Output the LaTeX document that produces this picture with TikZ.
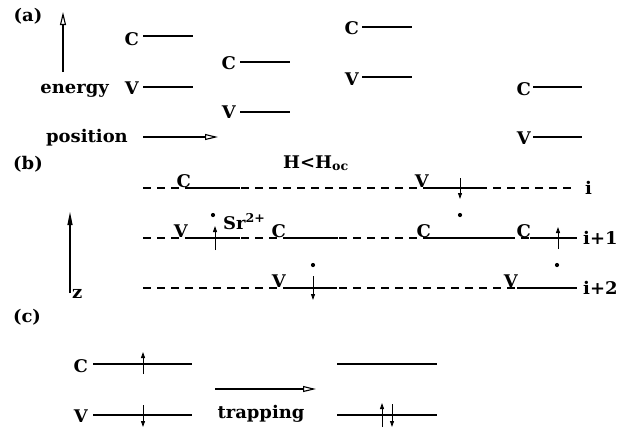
\documentclass[tikz,border=0pt]{standalone}
\usepackage{fontspec}
\setmainfont{DejaVu Serif}[FakeStretch=1.03]
\usetikzlibrary{arrows.meta}
\tikzset{
  lbl/.style={inner sep=0, anchor=base east},
  txt/.style={inner sep=0},
  level/.style={line width=1.1bp},
  rowline/.style={line width=1.1bp, dash pattern=on 8bp off 6bp},
  spin/.style={line width=0.9bp, -{Triangle[length=6bp,width=4bp]}},
  openarr/.style={line width=1.1bp, -{Triangle[open,length=13bp,width=6bp]}},
  fillarr/.style={line width=1.1bp, -{Triangle[length=13bp,width=5bp]}},
  ion/.style={circle, fill, inner sep=0, minimum size=4.2bp},
}
\begin{document}
\begin{tikzpicture}[x=1bp,y=-1bp,font=\fontsize{17.5}{20}\selectfont\bfseries]
\useasboundingbox (0,0) rectangle (632,429);

% ---------------- (a)
\node[txt] (pa) at (28,16) {(a)};
\coordinate (eb) at (63,72); \coordinate (et) at (63,12);
\draw[openarr] (eb) -- (et);
\node[lbl] (energy) at (109,93) {energy};
\node[lbl] (position) at (128,142) {position};
\coordinate (ps) at (143,137); \coordinate (pe) at (218,137);
\draw[openarr] (ps) -- (pe);

\node[lbl] (ca1) at (139,45) {C};  \coordinate (ca1s) at (143,36);  \coordinate (ca1e) at (193,36);
\node[lbl] (va1) at (139,94) {V};  \coordinate (va1s) at (143,87);  \coordinate (va1e) at (193,87);
\node[lbl] (ca2) at (236,69) {C};  \coordinate (ca2s) at (240,62);  \coordinate (ca2e) at (290,62);
\node[lbl] (va2) at (236,118) {V}; \coordinate (va2s) at (240,112); \coordinate (va2e) at (290,112);
\node[lbl] (ca3) at (359,34) {C};  \coordinate (ca3s) at (362,27);  \coordinate (ca3e) at (412,27);
\node[lbl] (va3) at (359,85) {V};  \coordinate (va3s) at (362,77);  \coordinate (va3e) at (412,77);
\node[lbl] (ca4) at (531,95) {C};  \coordinate (ca4s) at (533,87);  \coordinate (ca4e) at (582,87);
\node[lbl] (va4) at (531,144) {V}; \coordinate (va4s) at (533,137); \coordinate (va4e) at (582,137);
\foreach \n in {ca1,va1,ca2,va2,ca3,va3,ca4,va4} \draw[level] (\n s) -- (\n e);

% ---------------- (b)
\node[txt] (pb) at (28,164) {(b)};
\node[txt, anchor=base west] (hoc) at (283,168) {H<H\textsubscript{oc}};
\coordinate (zb) at (70,293); \coordinate (zt) at (70,212);
\draw[fillarr] (zb) -- (zt);
\node[txt, anchor=base west] (zl) at (72,298) {z};

% rows
\coordinate (r1s) at (143,188); \coordinate (r1e) at (577,188);
\coordinate (r2s) at (143,238); \coordinate (r2e) at (577,238);
\coordinate (r3s) at (143,288); \coordinate (r3e) at (577,288);
\draw[rowline] (r1s) -- (r1e);
\draw[rowline] (r2s) -- (r2e);
\draw[rowline] (r3s) -- (r3e);
\node[txt, anchor=base west] (ri1) at (585,194) {i};
\node[txt, anchor=base west] (ri2) at (583,244) {i+1};
\node[txt, anchor=base west] (ri3) at (583,294) {i+2};

% row i
\node[lbl] (b1c) at (191,187) {C}; \coordinate (b1cs) at (190,188); \coordinate (b1ce) at (240,188);
\node[lbl] (b1v) at (429,187) {V}; \coordinate (b1vs) at (428,188); \coordinate (b1ve) at (485,188);
% row i+1
\node[lbl] (b2v) at (188,237) {V}; \coordinate (b2vs) at (187,238); \coordinate (b2ve) at (240,238);
\node[lbl] (b2c) at (286,237) {C}; \coordinate (b2cs) at (285,238); \coordinate (b2ce) at (338,238);
\node[lbl] (b2d) at (431,237) {C}; \coordinate (b2ds) at (430,238); \coordinate (b2de) at (507,238);
\node[lbl] (b2f) at (531,237) {C}; \coordinate (b2fs) at (530,238); \coordinate (b2fe) at (577,238);
% row i+2
\node[lbl] (b3v) at (286,287) {V}; \coordinate (b3vs) at (285,288); \coordinate (b3ve) at (337,288);
\node[lbl] (b3w) at (518,287) {V}; \coordinate (b3ws) at (517,288); \coordinate (b3we) at (577,288);
\foreach \n in {b1c,b1v,b2v,b2c,b2d,b2f,b3v,b3w} \draw[level] (\n s) -- (\n e);

% spins in (b)
\coordinate (s1a) at (460,178); \coordinate (s1b) at (460,199);
\coordinate (s2a) at (215,250); \coordinate (s2b) at (215,226);
\coordinate (s3a) at (558,249); \coordinate (s3b) at (558,227);
\coordinate (s4a) at (313,276); \coordinate (s4b) at (313,300);
\foreach \n in {s1,s2,s3,s4} \draw[spin] (\n a) -- (\n b);

% ions
\node[ion] (d1) at (213,215) {};
\node[ion] (d2) at (460,215) {};
\node[ion] (d3) at (313,265) {};
\node[ion] (d4) at (557,265) {};
\node[txt, anchor=base west] (sr) at (223,229) {Sr\textsuperscript{2+}};

% ---------------- (c)
\node[txt] (pc) at (27,317) {(c)};
\node[lbl] (cc) at (88,372) {C}; \coordinate (ccs) at (93,364); \coordinate (cce) at (192,364);
\node[lbl] (cv) at (88,422) {V}; \coordinate (cvs) at (93,415); \coordinate (cve) at (192,415);
\coordinate (rcs) at (337,364); \coordinate (rce) at (437,364);
\coordinate (rvs) at (337,415); \coordinate (rve) at (437,415);
\foreach \n in {cc,cv,rc,rv} \draw[level] (\n s) -- (\n e);

\coordinate (t1a) at (143,374); \coordinate (t1b) at (143,352);
\coordinate (t2a) at (143,405); \coordinate (t2b) at (143,427);
\coordinate (t3a) at (382,427); \coordinate (t3b) at (382,403);
\coordinate (t4a) at (392,404); \coordinate (t4b) at (392,427);
\foreach \n in {t1,t2,t3,t4} \draw[spin] (\n a) -- (\n b);

\coordinate (ts) at (215,389); \coordinate (te) at (316,389);
\draw[openarr] (ts) -- (te);
\node[txt, anchor=base] (trap) at (261,418) {trapping};
\end{tikzpicture}
\end{document}
